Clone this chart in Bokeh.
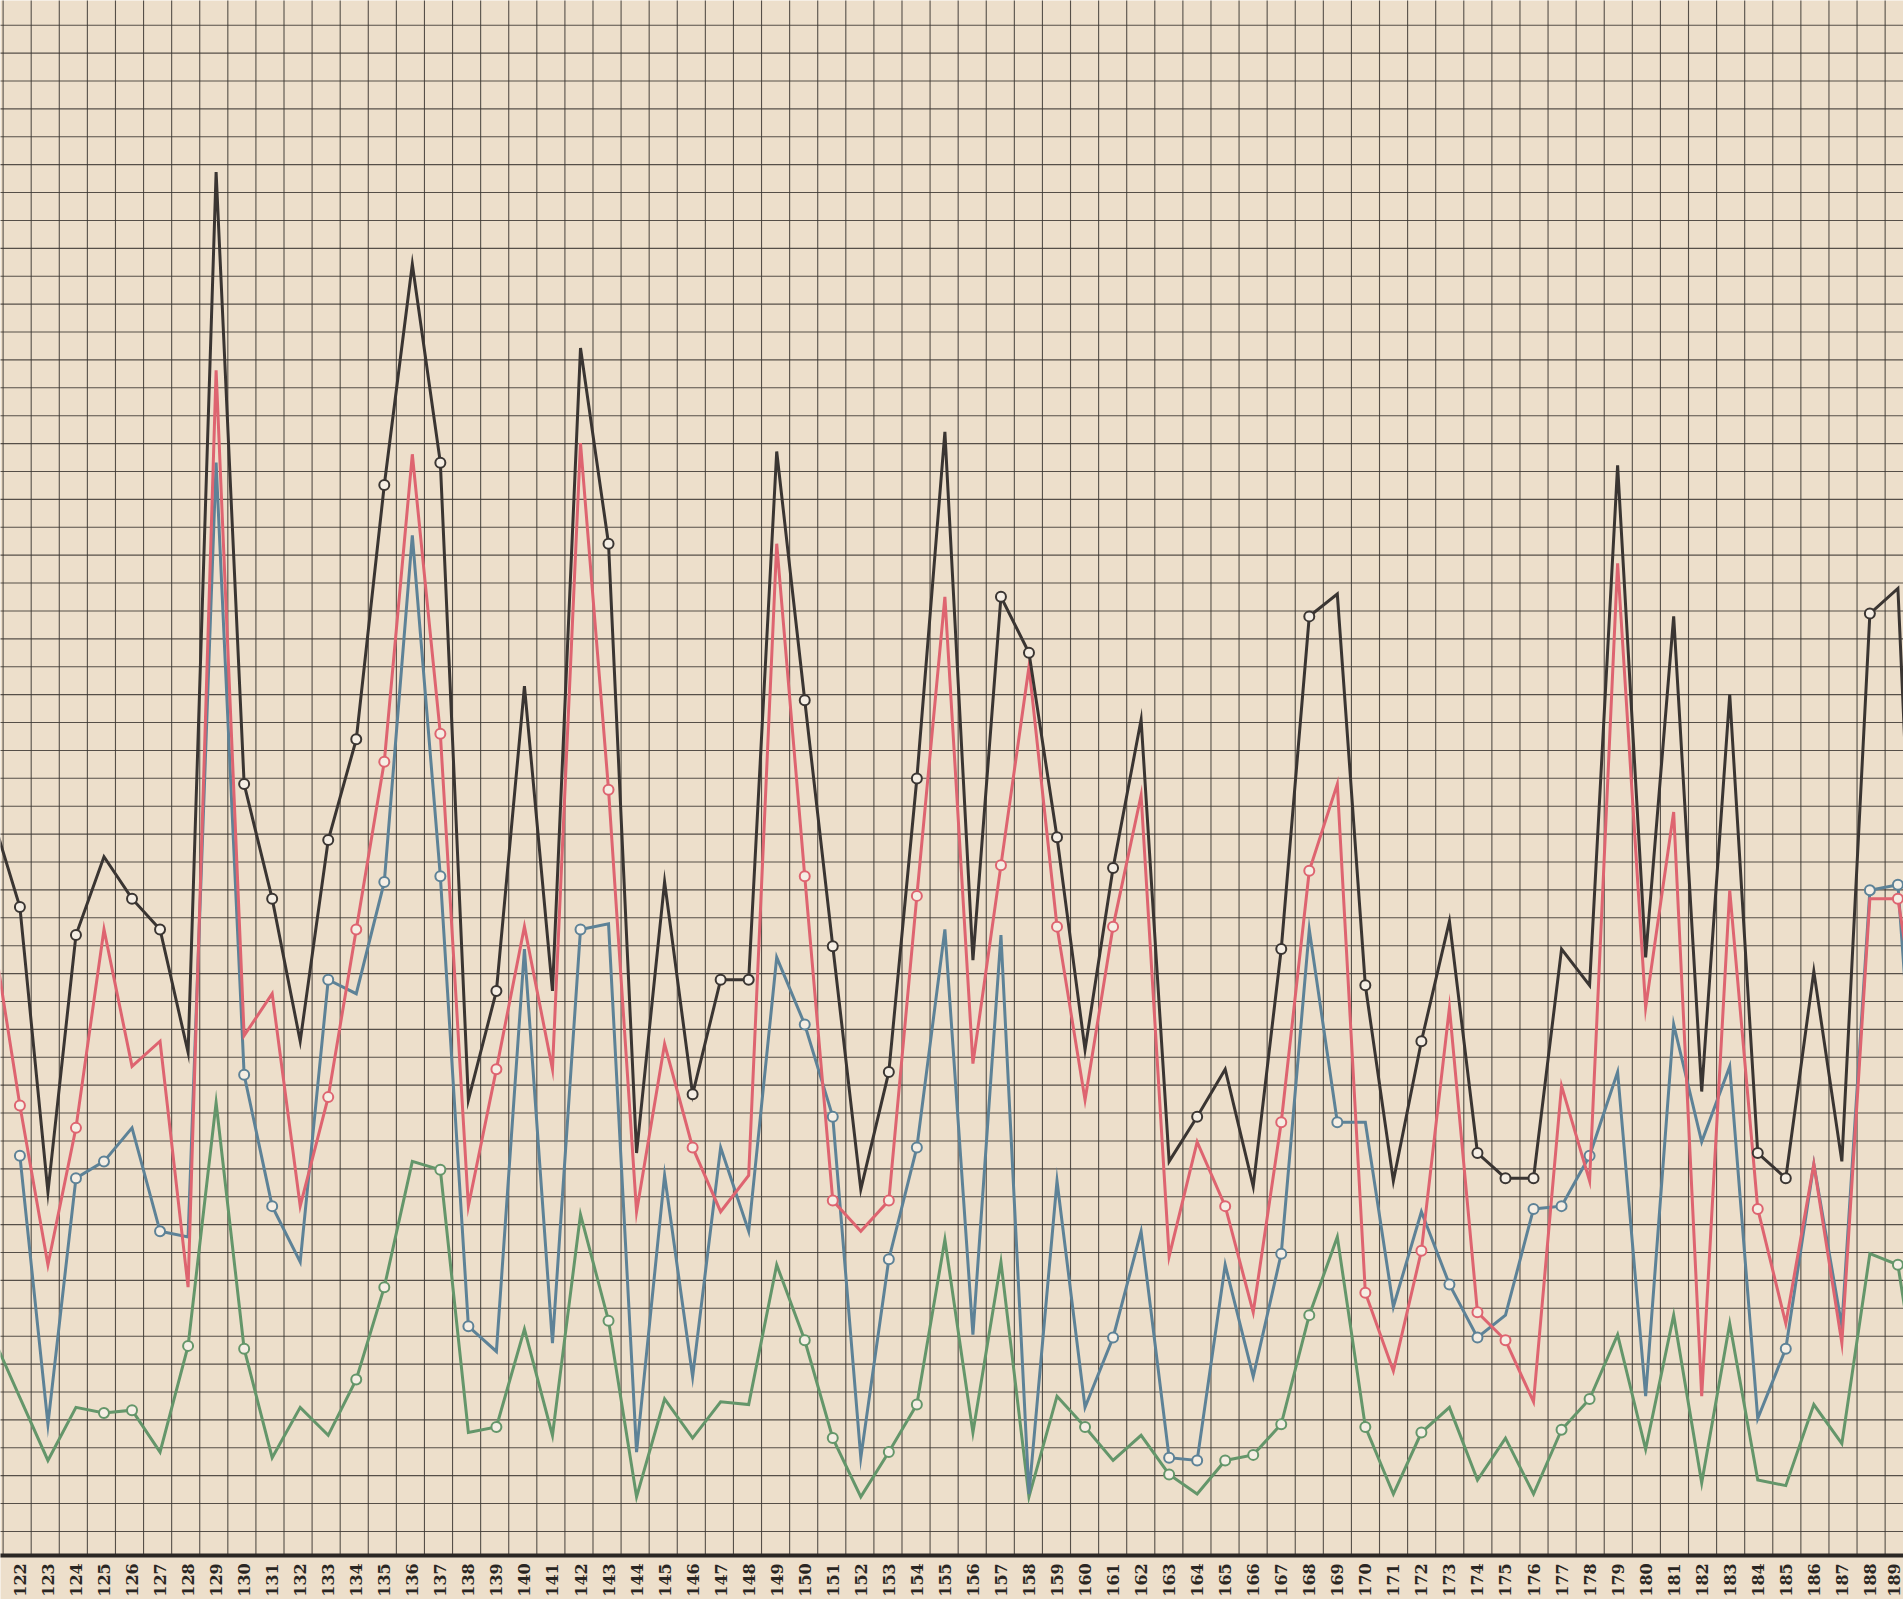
import math
from bokeh.plotting import figure
from bokeh.models import Range1d, ColumnDataSource
from bokeh.core.properties import value
from bokeh.embed import file_html
from bokeh.resources import INLINE

NAN = float("nan")

days = list(range(121, 191))
tick_days = list(range(122, 190))
tick_labels = [str(d) for d in tick_days]

black = [26.5, 23.2, 13.0, 22.2, 25.0, 23.5, 22.4, 18.0, 49.5, 27.6,
         23.5, 18.4, 25.6, 29.2, 38.3, 46.2, 39.1, 16.3, 20.2, 31.1,
         20.2, 43.2, 36.2, 14.4, 24.1, 16.5, 20.6, 20.6, 39.5, 30.6,
         21.8, 13.1, 17.3, 27.8, 40.2, 21.3, 34.3, 32.3, 25.7, 18.1,
         24.6, 29.9, 14.1, 15.7, 17.4, 13.2, 21.7, 33.6, 34.4, 20.4,
         13.4, 18.4, 22.7, 14.4, 13.5, 13.5, 21.7, 20.4, 39.0, 21.4,
         33.6, 16.6, 30.8, 14.4, 13.5, 20.9, 14.1, 33.7, 34.6, 12.0]
red = [22.5, 16.1, 10.4, 15.3, 22.4, 17.5, 18.4, 9.6, 42.4, 18.6,
       20.1, 12.5, 16.4, 22.4, 28.4, 39.4, 29.4, 12.5, 17.4, 22.5,
       17.4, 39.8, 27.4, 12.3, 18.3, 14.6, 12.3, 13.6, 36.2, 24.3,
       12.7, 11.6, 12.7, 23.6, 34.3, 17.6, 24.7, 31.8, 22.5, 16.3,
       22.5, 27.2, 10.7, 14.8, 12.5, 8.7, 15.5, 24.5, 27.6, 9.4,
       6.6, 10.9, 19.6, 8.7, 7.7, 5.5, 16.8, 13.4, 35.5, 19.6,
       26.6, 5.7, 23.8, 12.4, 8.3, 14.0, 7.6, 23.5, 23.5, 17.0]
blue = [NAN, 14.3, 4.7, 13.5, 14.1, 15.3, 11.6, 11.4, 39.1, 17.2,
        12.5, 10.5, 20.6, 20.1, 24.1, 36.5, 24.3, 8.2, 7.3, 21.7,
        7.6, 22.4, 22.6, 3.7, 13.6, 6.4, 14.6, 11.6, 21.4, 19.0,
        15.7, 3.5, 10.6, 14.6, 22.4, 7.9, 22.2, 2.2, 13.4, 5.3,
        7.8, 11.6, 3.5, 3.4, 10.4, 6.4, 10.8, 22.4, 15.5, 15.5,
        8.9, 12.3, 9.7, 7.8, 8.6, 12.4, 12.5, 14.3, 17.3, 5.7,
        19.0, 14.8, 17.5, 4.9, 7.4, 14.0, 8.2, 23.8, 24.0, 10.0]
green = [7.9, 5.65, 3.4, 5.3, 5.1, 5.2, 3.7, 7.5, 16.2, 7.4,
         3.5, 5.3, 4.3, 6.3, 9.6, 14.1, 13.8, 4.4, 4.6, 8.1,
         4.3, 12.2, 8.4, 2.1, 5.6, 4.2, 5.5, 5.4, 10.4, 7.7,
         4.2, 2.1, 3.7, 5.4, 11.3, 4.4, 10.5, 2.1, 5.7, 4.6,
         3.4, 4.3, 2.9, 2.2, 3.4, 3.6, 4.7, 8.6, 11.4, 4.6,
         2.2, 4.4, 5.3, 2.7, 4.2, 2.2, 4.5, 5.6, 7.9, 3.8,
         8.6, 2.6, 8.3, 2.7, 2.5, 5.4, 4.0, 10.8, 10.4, 4.0]

black_marks = [122, 124, 126, 127, 130, 131, 133, 134, 135, 137, 139, 143, 146,
               147, 148, 150, 151, 153, 154, 157, 158, 159, 161, 164, 167, 168,
               170, 172, 174, 175, 176, 184, 185, 188]
red_marks = [122, 124, 133, 134, 135, 137, 139, 143, 146, 150, 151, 153, 154,
             157, 159, 161, 165, 167, 168, 170, 172, 174, 175, 184, 189]
blue_marks = [122, 124, 125, 127, 130, 131, 133, 135, 137, 138, 142, 150, 151,
              153, 154, 161, 163, 164, 167, 169, 173, 174, 176, 177, 178, 185,
              188, 189]
green_marks = [125, 126, 128, 130, 134, 135, 137, 139, 143, 150, 151, 153, 154,
               160, 163, 165, 166, 167, 168, 170, 172, 177, 178, 189]

PAPER = "#eddfcb"
MARK_FILL = "#f5eee4"
GRID = "#3b3631"

W, H = 1903, 1599
PX_PER_DAY = 28.03
PX_PER_UNIT = 27.95
x0 = 122 - 19.4 / PX_PER_DAY
x1 = x0 + W / PX_PER_DAY
axis_px = 1555
y1 = axis_px / PX_PER_UNIT
y0 = -(H - axis_px) / PX_PER_UNIT

p = figure(width=W, height=H, output_backend="svg", toolbar_location=None,
           x_axis_type=None, y_axis_type=None,
           x_range=Range1d(x0, x1), y_range=Range1d(y0, y1),
           min_border=0, min_border_left=0, min_border_right=0,
           min_border_top=0, min_border_bottom=0)
p.background_fill_color = PAPER
p.border_fill_color = PAPER
p.outline_line_color = None
p.xgrid.visible = False
p.ygrid.visible = False

# graph-paper grid (ruled paper, stops at the base line)
vx = [122.403 + k * 1.00214 for k in range(-3, 70)]
p.segment(x0=vx, y0=[0] * len(vx), x1=vx, y1=[60] * len(vx),
          line_color=GRID, line_width=1.1, line_alpha=0.85)
hy = [0.86 + k * 0.998 for k in range(0, 57)]
p.segment(x0=[115] * len(hy), y0=hy, x1=[195] * len(hy), y1=hy,
          line_color=GRID, line_width=1.1, line_alpha=0.85)

# base line
p.line([115, 195], [0, 0], line_color="#2b2724", line_width=4)

series = [
    (green, green_marks, "#64966a"),
    (blue, blue_marks, "#5d8297"),
    (red, red_marks, "#de6470"),
    (black, black_marks, "#3a3532"),
]
for vals, marks, col in series:
    p.line(days, vals, line_color=col, line_width=3.0, line_join="miter")
    mx = [d for d in marks]
    my = [vals[days.index(d)] for d in marks]
    p.scatter(mx, my, size=10, marker="circle", fill_color=MARK_FILL,
              line_color=col, line_width=2.0)

# day labels under the base line
offs = [0] * (len(tick_days) - 1) + [-4]
src = ColumnDataSource(dict(x=tick_days, y=[-0.28] * len(tick_days),
                            t=tick_labels, xo=offs))
p.text(x="x", y="y", text="t", source=src, angle=math.pi / 2,
       x_offset="xo",
       text_align="right", text_baseline="middle",
       text_font=value("DejaVu Serif"), text_font_style="bold",
       text_font_size="16px", text_color="#2a2622")

open("out.html", "w").write(file_html(p, INLINE))
